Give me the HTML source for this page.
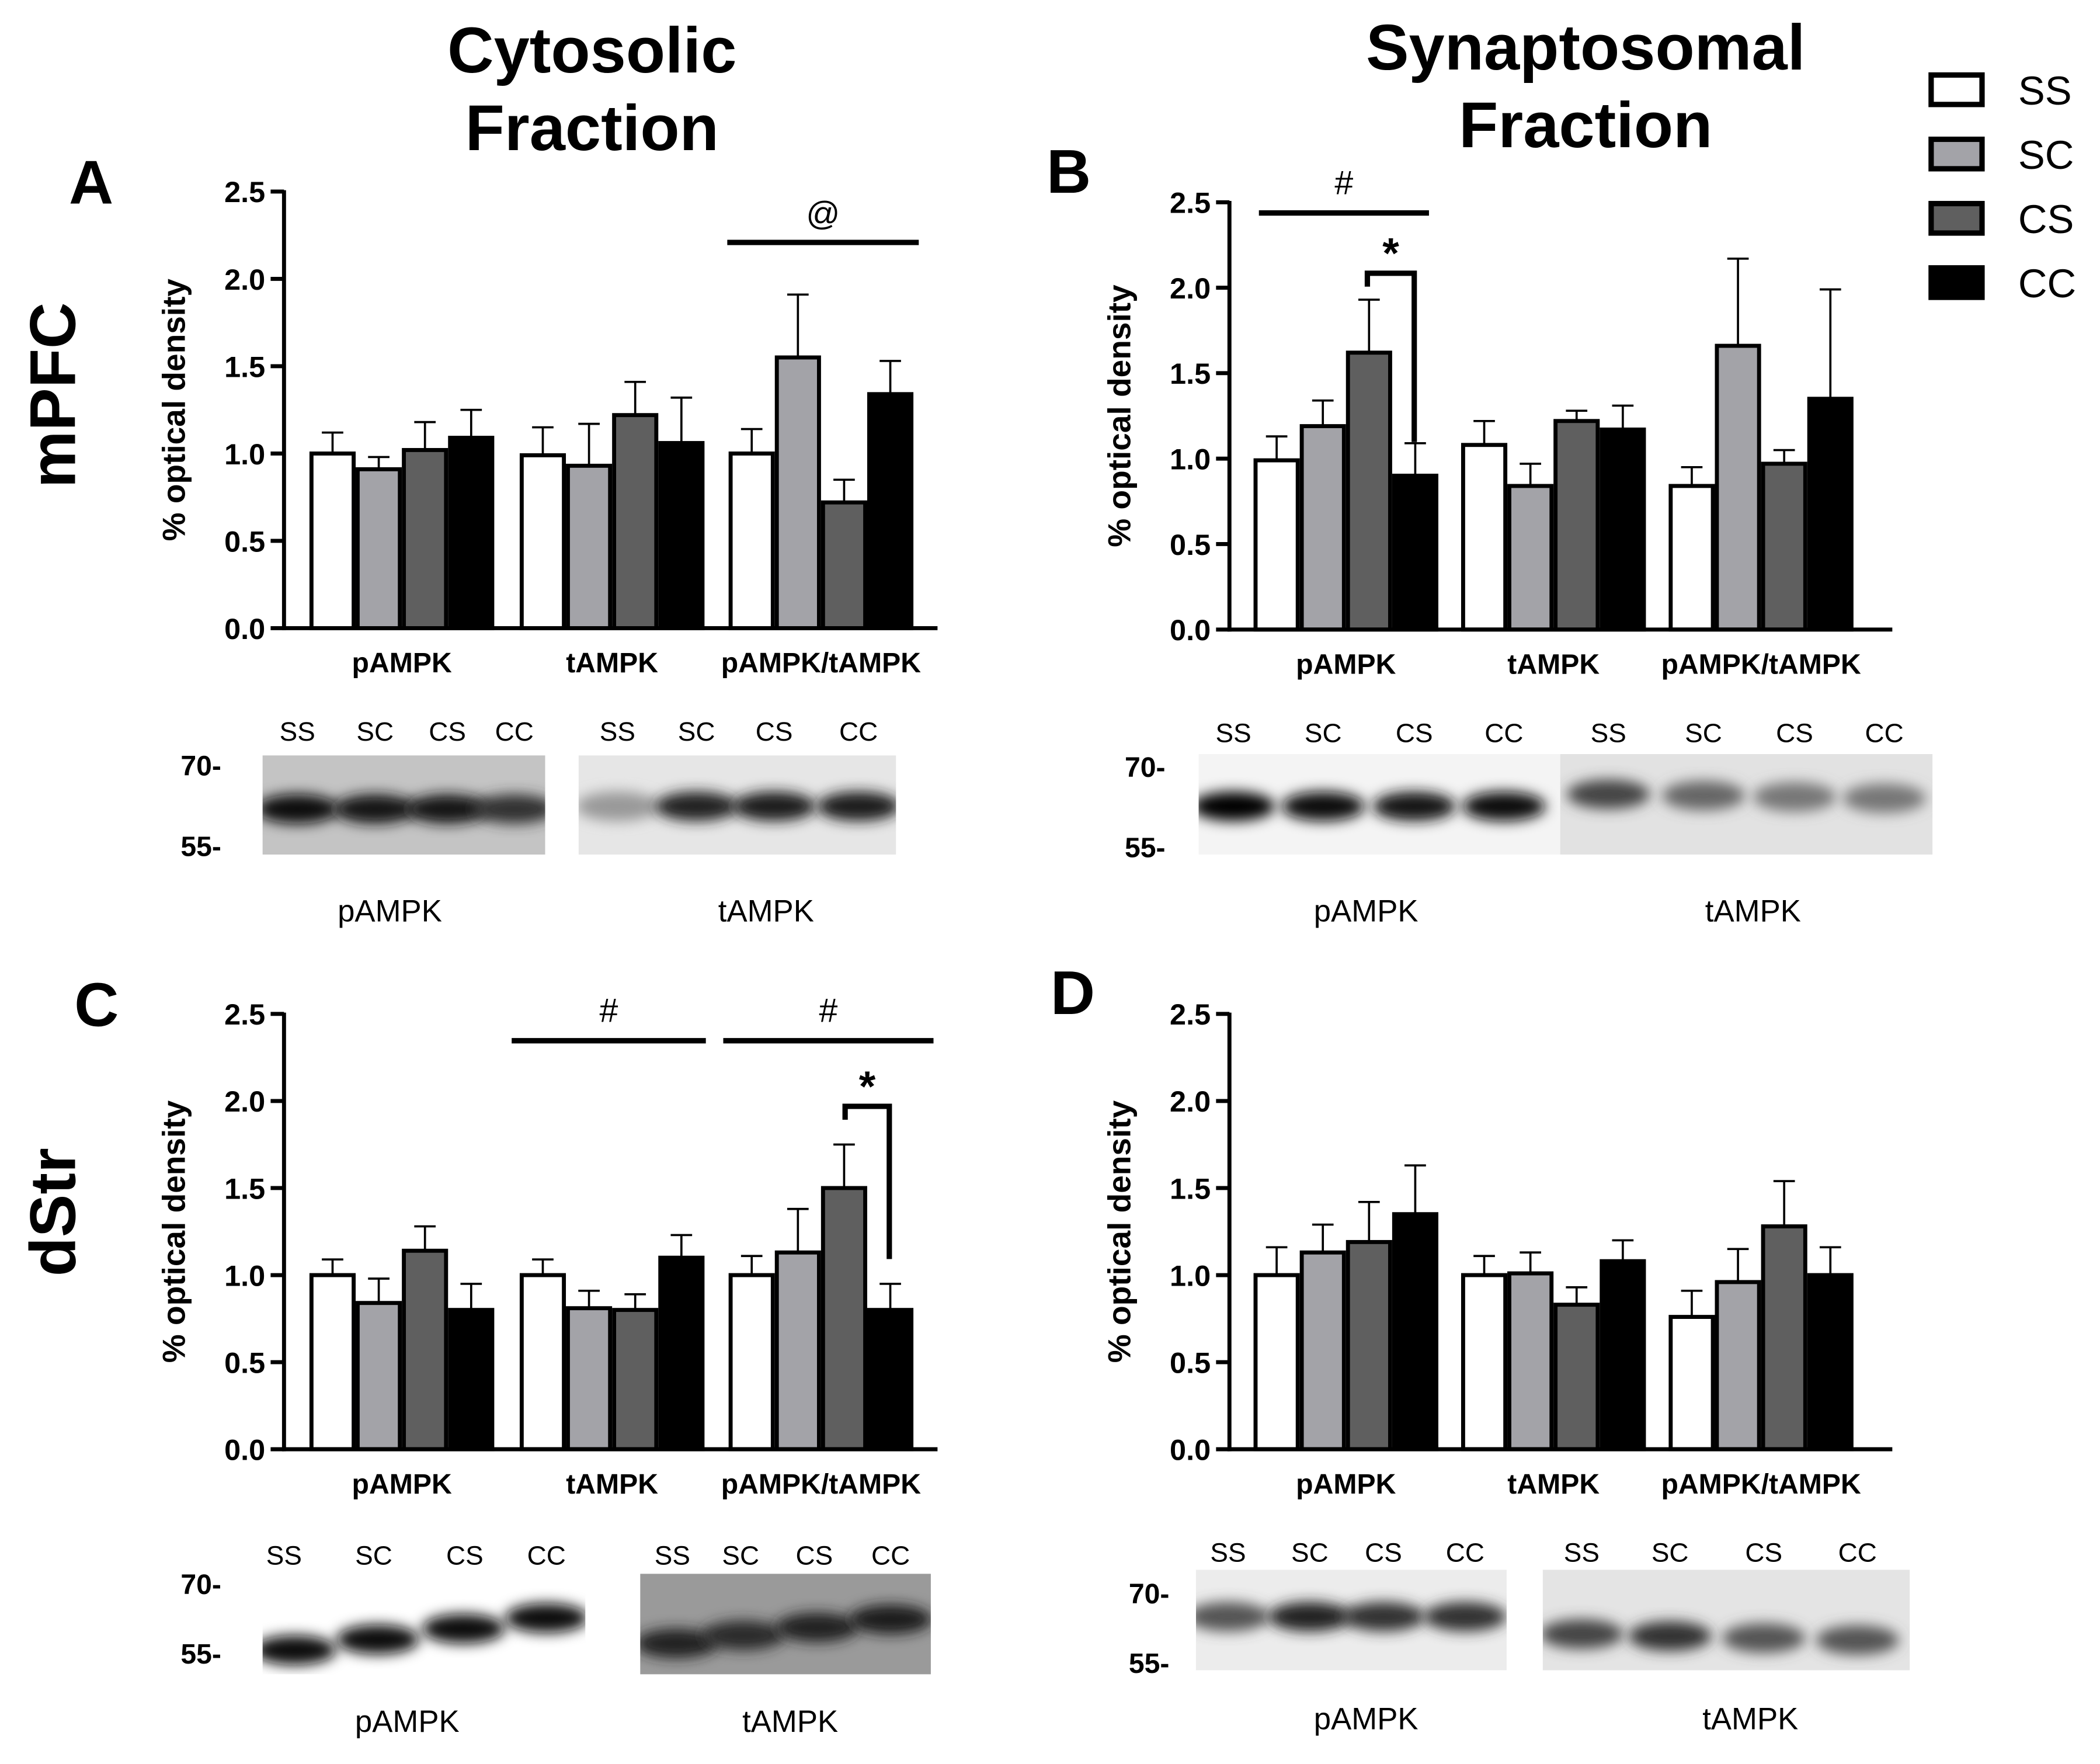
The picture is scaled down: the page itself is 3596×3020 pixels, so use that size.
<!DOCTYPE html>
<html><head><meta charset="utf-8"><style>
html,body{margin:0;padding:0;background:#fff}
svg{display:block}
text{font-family:"Liberation Sans",Arial,sans-serif}
</style></head><body>
<svg id="fig" width="3596" height="3020" viewBox="0 0 1568 1317" xmlns="http://www.w3.org/2000/svg">
<defs>
<filter id="blur" x="-50%" y="-50%" width="200%" height="200%"><feGaussianBlur stdDeviation="5"/></filter>
</defs>
<g id="static" font-weight="bold">
<text x="442" y="54" font-size="48" text-anchor="middle">Cytosolic</text>
<text x="442" y="112" font-size="48" text-anchor="middle">Fraction</text>
<text x="1184" y="52" font-size="48" text-anchor="middle">Synaptosomal</text>
<text x="1184" y="110" font-size="48" text-anchor="middle">Fraction</text>
<text x="68" y="152" font-size="46" text-anchor="middle">A</text>
<text x="798" y="144" font-size="46" text-anchor="middle">B</text>
<text x="72" y="766" font-size="46" text-anchor="middle">C</text>
<text x="801" y="757" font-size="46" text-anchor="middle">D</text>
<text transform="translate(56,295) rotate(-90)" font-size="48" text-anchor="middle">mPFC</text>
<text transform="translate(56,905) rotate(-90)" font-size="48" text-anchor="middle">dStr</text>
</g>
<g id="legend"></g>
<g id="charts"></g>
<g id="blots"></g>
</svg>
<script>
const NS="http://www.w3.org/2000/svg";
const groups=["SS","SC","CS","CC"];
const fills=["#ffffff","#a3a3a8","#5f5f5f","#000000"];
const categories=["pAMPK","tAMPK","pAMPK/tAMPK"];
const yTicks=["0.0","0.5","1.0","1.5","2.0","2.5"];
const yTickValues=[0,0.5,1,1.5,2,2.5];
const meansA=[[1.0,0.91,1.02,1.09],[0.99,0.93,1.22,1.06],[1.0,1.55,0.72,1.34]];
const errTopA=[[1.12,0.98,1.18,1.25],[1.15,1.17,1.41,1.32],[1.14,1.91,0.85,1.53]];
const meansB=[[0.99,1.19,1.62,0.90],[1.08,0.84,1.22,1.17],[0.84,1.66,0.97,1.35]];
const errTopB=[[1.13,1.34,1.93,1.09],[1.22,0.97,1.28,1.31],[0.95,2.17,1.05,1.99]];
const meansC=[[1.0,0.84,1.14,0.80],[1.0,0.81,0.80,1.10],[1.0,1.13,1.50,0.80]];
const errTopC=[[1.09,0.98,1.28,0.95],[1.09,0.91,0.89,1.23],[1.11,1.38,1.75,0.95]];
const meansD=[[1.0,1.13,1.19,1.35],[1.0,1.01,0.83,1.08],[0.76,0.96,1.28,1.00]];
const errTopD=[[1.16,1.29,1.42,1.63],[1.11,1.13,0.93,1.20],[0.91,1.15,1.54,1.16]];

function el(tag,attrs,parent){const e=document.createElementNS(NS,tag);for(const k in attrs)e.setAttribute(k,attrs[k]);parent.appendChild(e);return e;}

const lg=document.getElementById('legend');
groups.forEach((g,i)=>{
  const y=56+i*48;
  const r=el('rect',{x:1442,y:y,width:38,height:22,fill:fills[i],stroke:'#000','stroke-width':4},lg);
  
  
  const t=el('text',{x:1507,y:y+22,'font-size':30},lg);
  t.textContent=g;
  
  
});

const panels=[
 {id:'a',ax:212,y0:469,y25:143,xEnd:700,centers:[300,457,613],means:meansA,err:errTopA},
 {id:'b',ax:918,y0:470,y25:151,xEnd:1413,centers:[1005,1160,1315],means:meansB,err:errTopB},
 {id:'c',ax:212,y0:1082,y25:757,xEnd:700,centers:[300,457,613],means:meansC,err:errTopC},
 {id:'d',ax:918,y0:1082,y25:757,xEnd:1413,centers:[1005,1160,1315],means:meansD,err:errTopD}
];
const charts=document.getElementById('charts');
panels.forEach(p=>{
  const g=el('g',{},charts);
  
  
  const ys=v=>p.y0-(p.y0-p.y25)*v/2.5;
  const bw=34.5;
  p.means.forEach((row,ci)=>{
    row.forEach((v,gi)=>{
      const x=p.centers[ci]+(gi-2)*bw;
      const top=ys(p.err[ci][gi]);
      const cx=x+bw/2;
      const ln=el('line',{x1:cx,y1:ys(v),x2:cx,y2:top,stroke:'#000','stroke-width':1.6},g);
      
      
      const cap=el('line',{x1:cx-8,y1:top,x2:cx+8,y2:top,stroke:'#000','stroke-width':1.6},g);
      
      
      const r=el('rect',{x:x+1.5,y:ys(v),width:bw-3,height:p.y0-ys(v),fill:fills[gi],stroke:'#000','stroke-width':3},g);
      
      
    });
    const t=el('text',{x:p.centers[ci],y:p.y0+33,'font-size':21,'font-weight':'bold','text-anchor':'middle'},g);
    t.textContent=categories[ci];
    
    
  });
  const ya=el('line',{x1:p.ax,y1:p.y25-1,x2:p.ax,y2:p.y0+1.5,stroke:'#000','stroke-width':3},g);
  
  
  const xa=el('line',{x1:p.ax-1.5,y1:p.y0,x2:p.xEnd,y2:p.y0,stroke:'#000','stroke-width':3},g);
  
  
  yTickValues.forEach((v,i)=>{
    const y=ys(v);
    el('line',{x1:p.ax-10,y1:y,x2:p.ax,y2:y,stroke:'#000','stroke-width':3},g);
    const t=el('text',{x:p.ax-14,y:y+8,'font-size':22,'font-weight':'bold','text-anchor':'end'},g);
    t.textContent=yTicks[i];
    
    
  });
  const yt=el('text',{transform:`translate(${p.ax-74},${(p.y0+p.y25)/2}) rotate(-90)`,'font-size':24,'font-weight':'bold','text-anchor':'middle'},g);
  yt.textContent='% optical density';
  
  
});

function sigLine(x1,x2,y,sym,sy,name){
  const g=el('g',{},charts);
  
  
  el('line',{x1:x1,y1:y,x2:x2,y2:y,stroke:'#000','stroke-width':4},g);
  const t=el('text',{x:(x1+x2)/2,y:sy,'font-size':25,'text-anchor':'middle'},g);
  t.textContent=sym;
}
function bracket(x1,x2,y,yl,yr,name){
  const g=el('g',{},charts);
  
  
  el('polyline',{points:`${x1},${yl} ${x1},${y} ${x2},${y} ${x2},${yr}`,fill:'none',stroke:'#000','stroke-width':4},g);
  const t=el('text',{x:(x1+x2)/2,y:y-4,'font-size':32,'font-weight':'bold','text-anchor':'middle'},g);
  t.textContent='*';
}
sigLine(543,686,181,'@',168,'significance-a-ratio');
sigLine(940,1067,159,'#',145,'significance-b-pampk');
bracket(1021,1056,204,214,330,'significance-b-star');
sigLine(382,527,777,'#',763,'significance-c-tampk');
sigLine(540,697,777,'#',763,'significance-c-ratio');
bracket(631,664,826,836,940,'significance-c-star');

const blots=document.getElementById('blots');
function txt(x,y,s,size,name,weight){const t=el('text',{x:x,y:y,'font-size':size,'text-anchor':'middle','font-weight':weight||'normal'},blots);t.textContent=s;return t;}
function blot(x,y,w,h,bg,lanes,bandY,dark,slope,name){
  const g=el('g',{},blots);
  
  
  el('rect',{x:x,y:y,width:w,height:h,fill:bg},g);
  const clip='c'+name;
  const cp=el('clipPath',{id:clip},g);el('rect',{x:x,y:y,width:w,height:h},cp);
  const bg2=el('g',{'clip-path':`url(#${clip})`},g);
  lanes.forEach((lx,i)=>{
    el('ellipse',{cx:lx,cy:bandY-(slope||0)*i,rx:31,ry:11,fill:dark[i],filter:'url(#blur)'},bg2);
  });
}
[['SS',222],['SC',280],['CS',334],['CC',384],['SS',461],['SC',520],['CS',578],['CC',641]].forEach(l=>txt(l[1],553,l[0],20,'lane-label-a'));
txt(150,579,'70-',21,'mw-70-a','bold');txt(150,639,'55-',21,'mw-55-a','bold');
blot(196,564,211,74,'#c4c4c4',[222,280,334,384],604,['#111','#181818','#181818','#333'],0,'blot-a-pampk');
blot(432,564,237,74,'#e6e6e6',[461,520,578,641],602,['#999','#222','#1c1c1c','#1c1c1c'],0,'blot-a-tampk');
txt(291,688,'pAMPK',23,'blot-label-a-pampk');txt(572,688,'tAMPK',23,'blot-label-a-tampk');
[['SS',921],['SC',988],['CS',1056],['CC',1123],['SS',1201],['SC',1272],['CS',1340],['CC',1407]].forEach(l=>txt(l[1],554,l[0],20,'lane-label-b'));
txt(855,580,'70-',21,'mw-70-b','bold');txt(855,640,'55-',21,'mw-55-b','bold');
blot(895,563,270,75,'#f4f4f4',[921,988,1056,1123],602,['#000','#111','#151515','#0a0a0a'],0,'blot-b-pampk');
blot(1165,563,278,75,'#e2e2e2',[1201,1272,1340,1407],593,['#444','#666','#777','#777'],-1,'blot-b-tampk');
txt(1020,688,'pAMPK',23,'blot-label-b-pampk');txt(1309,688,'tAMPK',23,'blot-label-b-tampk');
[['SS',212],['SC',279],['CS',347],['CC',408],['SS',502],['SC',553],['CS',608],['CC',665]].forEach(l=>txt(l[1],1168,l[0],20,'lane-label-c'));
txt(150,1190,'70-',21,'mw-70-c','bold');txt(150,1242,'55-',21,'mw-55-c','bold');
blot(196,1175,241,75,'#ffffff',[220,282,346,408],1232,['#111','#0a0a0a','#111','#111'],8,'blot-c-pampk');
blot(478,1175,217,75,'#9a9a9a',[505,555,610,665],1227,['#222','#2a2a2a','#222','#1a1a1a'],6,'blot-c-tampk');
txt(304,1293,'pAMPK',23,'blot-label-c-pampk');txt(590,1293,'tAMPK',23,'blot-label-c-tampk');
[['SS',917],['SC',978],['CS',1033],['CC',1094],['SS',1181],['SC',1247],['CS',1317],['CC',1387]].forEach(l=>txt(l[1],1166,l[0],20,'lane-label-d'));
txt(858,1197,'70-',21,'mw-70-d','bold');txt(858,1249,'55-',21,'mw-55-d','bold');
blot(893,1172,232,75,'#ececec',[917,978,1033,1094],1207,['#555','#222','#333','#333'],0,'blot-d-pampk');
blot(1152,1172,274,75,'#e4e4e4',[1181,1247,1317,1387],1220,['#444','#333','#555','#555'],-1.5,'blot-d-tampk');
txt(1020,1291,'pAMPK',23,'blot-label-d-pampk');txt(1307,1291,'tAMPK',23,'blot-label-d-tampk');
</script>
</body></html>
